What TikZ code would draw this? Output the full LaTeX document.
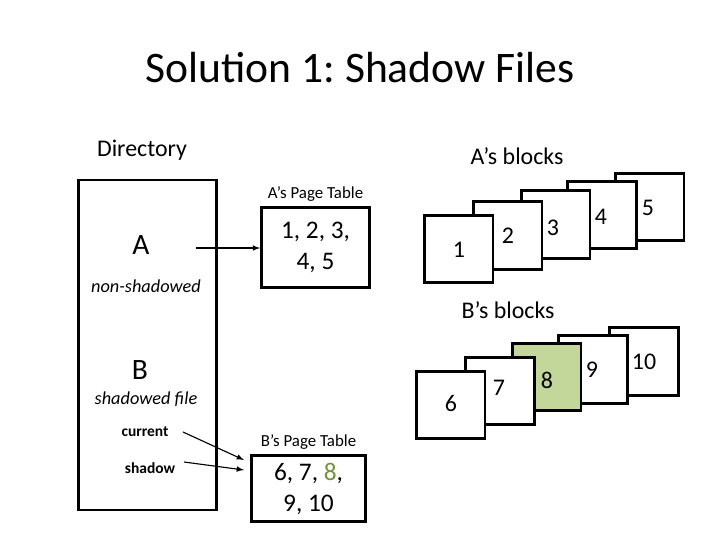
\documentclass[tikz,border=0pt]{standalone}
\usepackage{fontspec}
\setmainfont{Carlito}
\frenchspacing
\usetikzlibrary{positioning}
\definecolor{leaf}{HTML}{C4D79B}
\definecolor{leaftext}{HTML}{76923C}

\begin{document}
\begin{tikzpicture}[x=0.025cm, y=-0.025cm, >=latex,
  box/.style = {draw, line width=2pt, fill=white},
  blk/.style = {box, minimum width=1.72cm, minimum height=1.68cm},
  num/.style = {font=\fontsize{17}{17}\selectfont}]
\useasboundingbox (0,0) rectangle (720,540);
\node (title) at (360,68) {\fontsize{31}{31}\selectfont Solution 1: Shadow Files};

% directory
\node (dirlabel) at (142,150) {\fontsize{17}{17}\selectfont Directory};
\node[box, minimum width=3.45cm, minimum height=8.25cm] (dir) at (147.5,345) {};
\node (A) at (141,245) {\fontsize{21}{21}\selectfont A};
\node (nonsh) at (146,286) {\fontsize{13}{13}\selectfont\itshape non-shadowed};
\node (B) at (140,370) {\fontsize{21}{21}\selectfont B};
\node (shfile) at (146,399) {\fontsize{13}{13}\selectfont\itshape shadowed file};
\node (current) at (145,432) {\fontsize{11}{11}\selectfont\bfseries current};
\node (shadow) at (150,468) {\fontsize{11}{11}\selectfont\bfseries shadow};

% page tables
\node[box, minimum width=2.7cm, minimum height=2cm, align=center,
  font=\fontsize{18}{22}\selectfont] (ptA) at (315.5,247.5) {1, 2, 3,\\4, 5};
\node[above=0pt of ptA] {\fontsize{12}{12}\selectfont A’s Page Table};
\node[box, minimum width=2.85cm, minimum height=1.65cm, align=center,
  font=\fontsize{18}{22}\selectfont] (ptB) at (308.5,488.5)
  {6, 7, \textcolor{leaftext}{8},\\9, 10};
\node[above=0pt of ptB] {\fontsize{12}{12}\selectfont B’s Page Table};

\coordinate (aend) at (196,248);
\coordinate (cend) at (183,432);
\coordinate (send) at (184,462);
\draw[->, thick] (aend) -- (ptA.west |- aend);
\draw[->, thick] (cend) -- (244,460);
\draw[->, thick] (send) -- (244,470);

% A's blocks
\node (ablocks) at (517,156) {\fontsize{17}{17}\selectfont A’s blocks};
\node[blk] (a5) at (649.5,207) {};
\node[blk] (a4) at (602,215) {};
\node[blk] (a3) at (555.5,224.5) {};
\node[blk] (a2) at (507.5,235.5) {};
\node[blk] (a1) at (458.5,249) {};
\foreach \n/\x/\y in {1/459/250, 2/508/236, 3/553/228, 4/601/217, 5/648/208}
  \node[num] at (\x,\y) {\n};

% B's blocks
\node (bblocks) at (508,310) {\fontsize{17}{17}\selectfont B’s blocks};
\node[blk] (b10) at (644,361.5) {};
\node[blk] (b9) at (593,369.5) {};
\node[blk, fill=leaf] (b8) at (546.5,377) {};
\node[blk] (b7) at (500,391) {};
\node[blk] (b6) at (450.5,405) {};
\foreach \n/\x/\y in {6/451/404, 7/499/388, 8/547/380, 9/592/370, 10/644/362}
  \node[num] at (\x,\y) {\n};
\end{tikzpicture}
\end{document}
